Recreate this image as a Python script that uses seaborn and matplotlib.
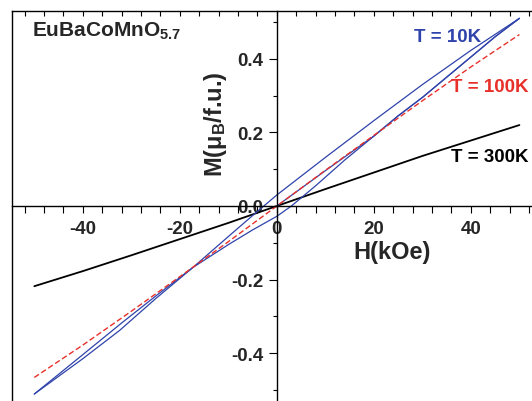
import numpy as np
import pandas as pd
import matplotlib
matplotlib.use("Agg")
import matplotlib.pyplot as plt
from matplotlib.ticker import MultipleLocator, FormatStrFormatter
import seaborn as sns

# ---------------- data ----------------
H_300 = [-50, -40, -30, -20, -10, 0, 10, 20, 30, 40, 50]
M_300 = [-0.218, -0.177, -0.134, -0.090, -0.046, 0.0, 0.046, 0.091, 0.136, 0.178, 0.220]

H_100 = [-50, -40, -30, -20, -10, 0, 10, 20, 30, 40, 50]
M_100 = [-0.466, -0.378, -0.286, -0.192, -0.097, 0.0, 0.097, 0.192, 0.286, 0.378, 0.466]

# 10 K hysteresis loop: descending branch (+50 -> -50)
H_10_down = [50, 40, 30, 20, 10, 0, -5, -10, -17.3, -25, -32.4, -40, -50]
M_10_down = [0.510, 0.423, 0.330, 0.232, 0.132, 0.030, -0.026, -0.083, -0.167, -0.252, -0.338, -0.415, -0.511]
# ascending branch (-50 -> +50)
H_10_up = [-50, -40, -32, -25, -17.3, -10, -5, 0, 3, 8, 14, 20, 25, 30, 35, 40, 45, 50]
M_10_up = [-0.511, -0.404, -0.318, -0.245, -0.167, -0.105, -0.065, -0.028, 0.0, 0.055, 0.125,
           0.190, 0.245, 0.295, 0.350, 0.405, 0.460, 0.510]
# virgin curve (0 -> +50)
H_10_virgin = [0, 5, 10, 15, 20, 25, 30, 35, 40, 45, 50]
M_10_virgin = [0.0, 0.048, 0.096, 0.143, 0.190, 0.245, 0.295, 0.350, 0.405, 0.460, 0.510]

x_major = [-40, -20, 0, 20, 40]
y_major = [-0.4, -0.2, 0.0, 0.2, 0.4]

BLUE = "#2f43aa"
RED = "#e8302a"

# ---------------- style ----------------
sns.set_theme(style="white")
plt.rcParams["font.family"] = ["Liberation Sans", "DejaVu Sans"]
plt.rcParams["font.weight"] = "bold"
plt.rcParams["axes.unicode_minus"] = False
plt.rcParams["mathtext.fontset"] = "custom"
plt.rcParams["mathtext.rm"] = "Liberation Sans:bold"
plt.rcParams["mathtext.bf"] = "Liberation Sans:bold"
plt.rcParams["mathtext.it"] = "Liberation Sans:bold"

W, Hpx = 532, 402
fig = plt.figure(figsize=(W / 100, Hpx / 100), dpi=100)
fig.patch.set_facecolor("white")

XL = (-54.6, 52.6)
YL = (-0.53, 0.53)
rect = [12 / W, 0.0, 1 - 12 / W, 1 - 12 / Hpx]

# frame axes (left + top lines, ticks on top)
fax = fig.add_axes(rect)
fax.set_xlim(*XL)
fax.set_ylim(*YL)
for s in ["right", "bottom"]:
    fax.spines[s].set_visible(False)
for s in ["left", "top"]:
    fax.spines[s].set_linewidth(1.0)
    fax.spines[s].set_color("black")
fax.xaxis.set_ticks_position("top")
fax.xaxis.set_major_locator(MultipleLocator(4))
fax.tick_params(axis="x", which="both", direction="in", length=3.5, width=0.8,
                top=True, bottom=False, labeltop=False, labelbottom=False, color="black")
fax.tick_params(axis="y", left=False, right=False, labelleft=False)
fax.set_facecolor("white")

# main axes with centred spines
ax = fig.add_axes(rect)
ax.set_facecolor("none")

df300 = pd.DataFrame({"H": H_300, "M": M_300})
df100 = pd.DataFrame({"H": H_100, "M": M_100})
dfd = pd.DataFrame({"H": H_10_down, "M": M_10_down})
dfu = pd.DataFrame({"H": H_10_up, "M": M_10_up})
dfv = pd.DataFrame({"H": H_10_virgin, "M": M_10_virgin})

sns.lineplot(data=df300, x="H", y="M", ax=ax, color="black", lw=1.3, sort=False, estimator=None)
sns.lineplot(data=dfv, x="H", y="M", ax=ax, color=BLUE, lw=0.9, sort=False, estimator=None)
sns.lineplot(data=dfd, x="H", y="M", ax=ax, color=BLUE, lw=0.9, sort=False, estimator=None)
sns.lineplot(data=dfu, x="H", y="M", ax=ax, color=BLUE, lw=0.9, sort=False, estimator=None)
sns.lineplot(data=df100, x="H", y="M", ax=ax, color=RED, lw=1.0, sort=False, estimator=None,
             linestyle=(0, (4, 2)))

ax.set_xlim(*XL)
ax.set_ylim(*YL)
ax.set_xlabel("")
ax.set_ylabel("")

ax.spines["left"].set_position(("data", 0))
ax.spines["bottom"].set_position(("data", 0))
ax.spines["right"].set_visible(False)
ax.spines["top"].set_visible(False)
for s in ["left", "bottom"]:
    ax.spines[s].set_linewidth(1.0)
    ax.spines[s].set_color("black")

ax.set_xticks(x_major)
ax.xaxis.set_minor_locator(MultipleLocator(4))
ax.set_yticks(y_major)
ax.yaxis.set_minor_locator(MultipleLocator(0.1))
ax.yaxis.set_major_formatter(FormatStrFormatter("%.1f"))
ax.xaxis.set_major_formatter(FormatStrFormatter("%d"))

ax.tick_params(axis="x", which="major", direction="out", length=5, width=0.8,
               bottom=True, top=False, labelsize=13.5, pad=5, color="black")
ax.tick_params(axis="x", which="minor", direction="out", length=5, width=0.8,
               bottom=True, top=False, color="black")
ax.tick_params(axis="y", which="major", direction="out", length=6, width=0.8,
               left=True, right=False, labelsize=13.5, pad=3.5, color="black")
ax.tick_params(axis="y", which="minor", direction="out", length=3, width=0.8,
               left=True, right=False, color="black")
for lab in ax.get_xticklabels() + ax.get_yticklabels():
    lab.set_fontweight("bold")

# axis titles
ax.text(23.8, -0.125, "H(kOe)", fontsize=17, fontweight="bold", ha="center", va="center")
ax.text(-12.6, 0.226, r"M(μ$_{\mathbf{B}}$/f.u.)", fontsize=17, fontweight="bold",
        rotation=90, ha="center", va="center")

# sample name
fig.text(32 / W, 1 - 37 / Hpx, r"EuBaCoMnO$_{\mathbf{5.7}}$", fontsize=15,
         fontweight="bold", ha="left", va="baseline")

# curve annotations
ax.text(35.1, 0.462, "T = 10K", color=BLUE, fontsize=13.5, fontweight="bold", ha="center", va="center")
ax.text(43.9, 0.325, "T = 100K", color=RED, fontsize=13.5, fontweight="bold", ha="center", va="center")
ax.text(43.9, 0.134, "T = 300K", color="black", fontsize=13.5, fontweight="bold", ha="center", va="center")

fig.savefig("out.png", dpi=100, facecolor="white")
